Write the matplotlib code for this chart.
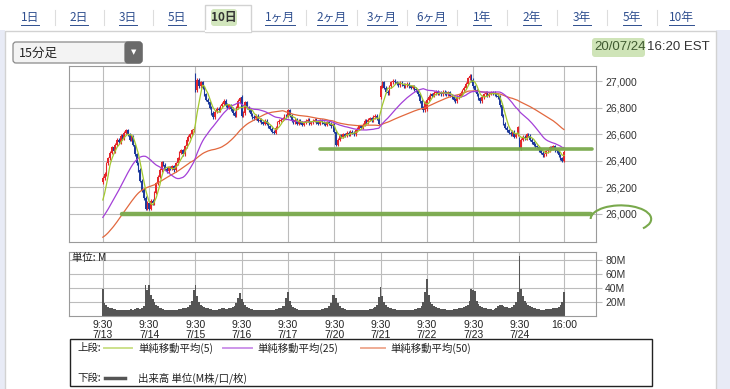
import numpy as np
import pandas as pd
import matplotlib
matplotlib.use("Agg")
import matplotlib.pyplot as plt
from matplotlib.patches import Rectangle, FancyBboxPatch, Arc

plt.rcParams['font.family'] = ['Liberation Sans', 'Noto Sans CJK JP']
JP = ['Noto Sans CJK JP', 'DejaVu Sans']

# ---- data (15 min bars, 26 per day) ----
days = ['7/13', '7/14', '7/15', '7/16', '7/17', '7/20', '7/21', '7/22', '7/23', '7/24']
bars_per_day = 26

# two earlier days, only used to start the moving averages
prev_0709 = [26010, 25950, 25900, 25850, 25800, 25760, 25720, 25700, 25680, 25650, 25640, 25620, 25600,
             25620, 25650, 25640, 25660, 25680, 25650, 25620, 25600, 25580, 25620, 25680, 25700, 25706]
prev_0710 = [25720, 25760, 25800, 25850, 25880, 25870, 25900, 25920, 25910, 25930, 25950, 25940, 25960,
             25950, 25970, 25960, 25980, 25990, 26000, 26010, 26020, 26040, 26050, 26060, 26070, 26075]

close_0713 = [26270, 26300, 26380, 26420, 26460, 26500, 26470, 26520, 26560, 26540, 26590, 26570, 26610,
              26630, 26600, 26560, 26580, 26520, 26450, 26380, 26330, 26250, 26180, 26120, 26040, 26085]
close_0714 = [26040, 26100, 26080, 26160, 26230, 26280, 26330, 26390, 26370, 26340, 26320, 26350, 26340,
              26360, 26330, 26380, 26420, 26460, 26480, 26450, 26510, 26560, 26580, 26600, 26630, 26642]
close_0715 = [26930, 27010, 26960, 26990, 26950, 26900, 26860, 26840, 26800, 26760, 26730, 26770, 26790,
              26780, 26810, 26830, 26850, 26820, 26800, 26816, 26790, 26760, 26740, 26800, 26850, 26870]
close_0716 = [26740, 26760, 26840, 26800, 26780, 26750, 26730, 26720, 26740, 26700, 26710, 26690, 26680,
              26700, 26680, 26660, 26640, 26620, 26610, 26650, 26690, 26700, 26710, 26720, 26740, 26734]
close_0717 = [26780, 26740, 26700, 26690, 26710, 26680, 26700, 26690, 26670, 26690, 26700, 26710, 26680,
              26690, 26700, 26710, 26690, 26680, 26700, 26690, 26680, 26670, 26690, 26680, 26660, 26672]
close_0720 = [26620, 26520, 26560, 26590, 26580, 26600, 26590, 26610, 26600, 26620, 26610, 26600, 26630,
              26640, 26660, 26650, 26670, 26700, 26690, 26710, 26720, 26700, 26730, 26740, 26720, 26680]
close_0721 = [26960, 26990, 26950, 26920, 26910, 26960, 26990, 27000, 26990, 26980, 26970, 26985, 26975,
              26960, 26970, 26980, 26960, 26950, 26960, 26940, 26930, 26900, 26850, 26800, 26780, 26840]
close_0722 = [26860, 26880, 26900, 26890, 26910, 26920, 26905, 26915, 26900, 26920, 26910, 26900, 26915,
              26890, 26880, 26860, 26850, 26880, 26890, 26910, 26930, 26950, 26980, 27020, 27040, 27005]
close_0723 = [26960, 26930, 26900, 26870, 26850, 26880, 26900, 26910, 26890, 26905, 26915, 26910, 26900,
              26890, 26880, 26820, 26740, 26680, 26650, 26630, 26610, 26600, 26620, 26580, 26600, 26652]
close_0724 = [26490, 26560, 26580, 26570, 26600, 26590, 26560, 26540, 26520, 26510, 26500, 26480, 26460,
              26440, 26450, 26470, 26480, 26500, 26490, 26510, 26480, 26470, 26440, 26420, 26400, 26469]
day_open = [26240, 26080, 27050, 26880, 26740, 26670, 26880, 26790, 27010, 26570]

vol_0713 = [39, 18, 15, 13, 12, 11, 10, 10, 9, 9, 8, 9, 8, 8, 9, 9, 10, 9, 10, 11, 11, 10, 12, 14, 44, 37]
vol_0714 = [44, 30, 24, 20, 16, 14, 12, 11, 10, 9, 9, 8, 8, 8, 8, 9, 9, 10, 10, 11, 12, 11, 13, 15, 22, 37]
vol_0715 = [44, 28, 20, 16, 14, 13, 12, 11, 10, 10, 9, 9, 9, 10, 10, 11, 11, 10, 10, 11, 12, 13, 14, 18, 26, 33]
vol_0716 = [24, 20, 15, 13, 11, 10, 10, 9, 9, 8, 8, 8, 8, 8, 8, 8, 9, 9, 9, 10, 10, 11, 12, 14, 14, 26]
vol_0717 = [34, 22, 16, 13, 11, 10, 9, 9, 8, 8, 8, 8, 8, 8, 8, 8, 9, 9, 9, 10, 10, 11, 12, 14, 18, 30]
vol_0720 = [30, 25, 18, 14, 12, 11, 10, 9, 9, 8, 8, 8, 8, 8, 8, 8, 8, 9, 9, 9, 10, 10, 11, 13, 16, 27]
vol_0721 = [41, 28, 20, 16, 13, 12, 11, 10, 10, 9, 9, 9, 8, 8, 8, 8, 9, 9, 9, 10, 10, 11, 12, 14, 20, 34]
vol_0722 = [53, 30, 20, 17, 14, 13, 12, 11, 10, 10, 10, 9, 9, 9, 9, 10, 10, 10, 11, 11, 12, 13, 14, 16, 22, 39]
vol_0723 = [37, 36, 22, 17, 14, 13, 12, 11, 10, 10, 10, 9, 10, 12, 14, 16, 15, 14, 13, 13, 12, 12, 13, 15, 20, 34]
vol_0724 = [86, 39, 28, 22, 18, 16, 14, 13, 12, 11, 10, 10, 9, 9, 9, 10, 10, 10, 10, 11, 11, 12, 13, 15, 20, 34]

y_ticks = [26000, 26200, 26400, 26600, 26800, 27000]
vol_ticks = [20, 40, 60, 80]
tab_labels = ['1日', '2日', '3日', '5日', '10日', '1ヶ月', '2ヶ月', '3ヶ月', '6ヶ月', '1年', '2年', '3年', '5年', '10年']

# hand-drawn green marks: level, from bar, to bar
mark_levels = [26487, 26002]
mark_from = [122, 11]
mark_to = [275, 274]

# ---- prep ----
closes_list = [close_0713, close_0714, close_0715, close_0716, close_0717,
               close_0720, close_0721, close_0722, close_0723, close_0724]
closes = np.concatenate(closes_list).astype(float)
volume = np.concatenate([vol_0713, vol_0714, vol_0715, vol_0716, vol_0717,
                         vol_0720, vol_0721, vol_0722, vol_0723, vol_0724]).astype(float)
n = len(closes)
x = np.arange(n)
opens = np.r_[prev_0710[-1], closes[:-1]]
opens[np.arange(len(days)) * bars_per_day] = day_open

full = pd.Series(np.concatenate([prev_0709, prev_0710, closes]))
ma5 = full.rolling(5).mean().values[-n:]
ma25 = full.rolling(25).mean().values[-n:]
ma50 = full.rolling(50).mean().values[-n:]

RED, BLUE = '#e5262b', '#1e3a9c'
C5, C25, C50 = '#a3c82e', '#a440d8', '#e2683e'
GRID, SPINE = '#bcbcbc', '#9a9a9a'
GREEN = '#79a94c'

W, H = 730, 389
fig = plt.figure(figsize=(W / 100, H / 100), dpi=100)

# ---- page / UI layer in pixel coords ----
ui = fig.add_axes([0, 0, 1, 1])
ui.set_xlim(0, W)
ui.set_ylim(H, 0)
ui.axis('off')

ui.add_patch(Rectangle((0, 30), 5, 360, fc='#e8ebf6', ec='none'))
ui.add_patch(Rectangle((716, 30), 14, 360, fc='#e8ebf6', ec='none'))
ui.add_patch(Rectangle((5, 31), 711, 370, fc='white', ec='#d2d2d2', lw=1))
ui.add_patch(Rectangle((205, 5), 46, 27, fc='white', ec='#d2d2d2', lw=1))
ui.plot([205.8, 250.2], [31, 31], color='white', lw=1.6)

tab_x = [30, 79, 128, 177, 224, 280, 332, 382, 431, 482, 532, 582, 632, 681]
fig.canvas.draw()
rend = fig.canvas.get_renderer()
for i, (lab, tx) in enumerate(zip(tab_labels, tab_x)):
    if lab == '10日':
        ui.add_patch(FancyBboxPatch((211, 9), 26, 17, boxstyle='round,pad=0,rounding_size=3',
                                    fc='#d2e6bd', ec='none'))
        ui.text(tx, 17.5, lab, family=JP, fontsize=8.5, color='#333333', fontweight='bold',
                ha='center', va='center')
        continue
    t = ui.text(tx, 17.5, lab, family=JP, fontsize=8.5, color='#2f4f8f', ha='center', va='center')
    bb = t.get_window_extent(rend)
    ui.plot([bb.x0, bb.x1], [H - bb.y0 + 0.5, H - bb.y0 + 0.5], color='#2f4f8f', lw=0.7)
    if i < len(tab_x) - 1 and tab_labels[i + 1] != '10日':
        sx = (tx + tab_x[i + 1]) / 2
        ui.plot([sx, sx], [10, 25], color='#dddddd', lw=0.8)

# dropdown
ui.add_patch(FancyBboxPatch((13, 42), 129, 21, boxstyle='round,pad=0,rounding_size=3',
                            fc='#f3f3f3', ec='#8a8a8a', lw=0.9))
ui.add_patch(FancyBboxPatch((125, 42), 17, 21, boxstyle='round,pad=0,rounding_size=3',
                            fc='#6a6a6a', ec='#6a6a6a', lw=0.9))
ui.text(133.5, 52.5, '▼', fontsize=5, color='white', ha='center', va='center', family='DejaVu Sans')
ui.text(19, 53, '15分足', family=JP, fontsize=9, color='#222222', va='center')

# date
ui.add_patch(FancyBboxPatch((592, 38), 53, 19, boxstyle='round,pad=0,rounding_size=3',
                            fc='#cfe4b8', ec='none'))
ui.text(594, 46.5, '20/07/24', fontsize=9.5, color='#3f5a30', va='center')
ui.text(647, 46.5, '16:20 EST', fontsize=9.5, color='#333333', va='center')

# legend
ui.add_patch(Rectangle((70, 339), 582, 47, fc='white', ec='#222222', lw=1))
ui.text(77, 348, '上段:', family=JP, fontsize=7.5, color='#222222', va='center')
for (x0, x1, tx, col, lab) in [(104, 132, 138, C5, '単純移動平均(5)'),
                               (223, 252, 257, C25, '単純移動平均(25)'),
                               (361, 385, 390, C50, '単純移動平均(50)')]:
    ui.plot([x0, x1], [348, 348], color=col, lw=1.4, alpha=0.55)
    ui.text(tx, 348, lab, family=JP, fontsize=7.5, color='#222222', va='center')
ui.text(77, 378, '下段:', family=JP, fontsize=7.5, color='#222222', va='center')
ui.plot([105, 125], [378, 378], color='#555555', lw=2.5)
ui.text(138, 378, '出来高 単位(M株/口/枚)', family=JP, fontsize=7.5, color='#222222', va='center')

# ---- price panel ----
ax = fig.add_axes([69 / W, 1 - 242 / H, 527 / W, 176 / H])
ax.set_xlim(-19, 277)
ax.set_ylim(25789, 27113)

up = closes >= opens
cols = np.where(up, RED, BLUE)
body_lo = np.minimum(opens, closes)
body_h = np.maximum(np.abs(closes - opens), 6)
ax.vlines(x, body_lo - 12, body_lo + body_h + 12, colors=cols, lw=0.8, zorder=2)
ax.bar(x, body_h, bottom=body_lo, width=0.9, color=cols, lw=0, zorder=2)
ax.plot(x, ma50, color=C50, lw=0.9, zorder=3)
ax.plot(x, ma25, color=C25, lw=0.9, zorder=3)
ax.plot(x, ma5, color=C5, lw=0.9, zorder=3)

for lv, a, b in zip(mark_levels, mark_from, mark_to):
    ax.plot([a, b], [lv, lv], color=GREEN, lw=2.6 if lv > 26200 else 3.2,
            solid_capstyle='round', clip_on=False, zorder=4, alpha=0.95)
ax.add_patch(Arc((291, 25962), 34, 205, theta1=-80, theta2=180, color=GREEN,
                 lw=1.5, clip_on=False, zorder=4))

day_ticks = [i * bars_per_day for i in range(len(days))] + [n - 1]
ax.set_xticks(day_ticks)
ax.set_xticklabels([])
ax.set_yticks(y_ticks)
ax.set_yticklabels([f'{v:,}' for v in y_ticks])
ax.yaxis.tick_right()
ax.tick_params(axis='x', length=0)
ax.tick_params(axis='y', length=4.5, width=0.8, color=GRID, labelsize=7.5, labelcolor='#333333', pad=2)
ax.grid(True, color=GRID, lw=0.8)
ax.set_axisbelow(True)
for s in ax.spines.values():
    s.set_color(SPINE)
    s.set_linewidth(0.8)

# ---- volume panel ----
av = fig.add_axes([69 / W, 1 - 316 / H, 527 / W, 64 / H])
av.set_xlim(-19, 277)
av.set_ylim(0, 91.4)
av.bar(x, volume, width=1.0, color='#555555', lw=0, zorder=2)
av.set_xticks(day_ticks)
av.set_xticklabels([f'9:30\n{d}' for d in days] + ['16:00'], linespacing=1.0)
av.set_yticks(vol_ticks)
av.set_yticklabels([f'{v}M' for v in vol_ticks])
av.yaxis.tick_right()
av.tick_params(axis='x', length=0, labelsize=7.5, labelcolor='#222222', pad=3)
av.tick_params(axis='y', length=4.5, width=0.8, color=GRID, labelsize=7.5, labelcolor='#333333', pad=2)
av.grid(True, color=GRID, lw=0.8)
av.set_axisbelow(True)
for s in av.spines.values():
    s.set_color(SPINE)
    s.set_linewidth(0.8)
av.text(0.005, 0.9, '単位: M', transform=av.transAxes, family=JP, fontsize=7.5,
        color='#222222', va='center')

fig.savefig('out.png', dpi=100)
